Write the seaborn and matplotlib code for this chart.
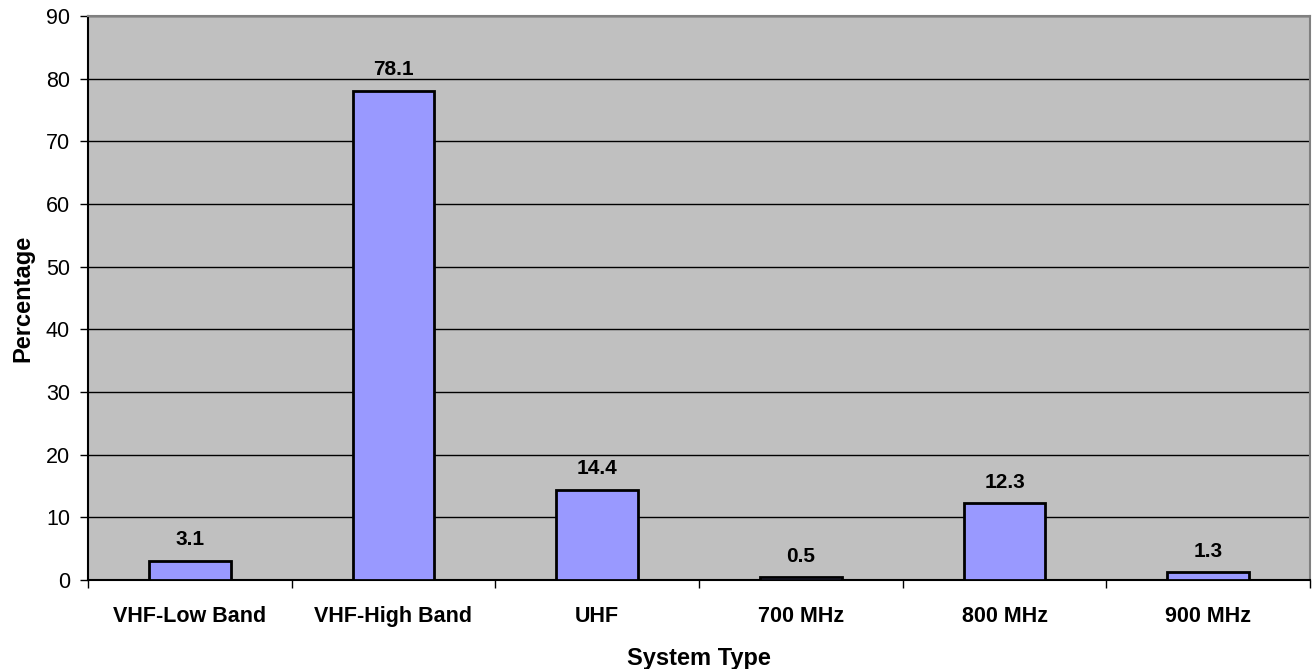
import numpy as np
import pandas as pd
import matplotlib
matplotlib.use("Agg")
import matplotlib.pyplot as plt
from matplotlib.ticker import FixedLocator
import seaborn as sns

categories = ["VHF-Low Band", "VHF-High Band", "UHF", "700 MHz", "800 MHz", "900 MHz"]
percentages = [3.1, 78.1, 14.4, 0.5, 12.3, 1.3]
y_ticks = [0, 10, 20, 30, 40, 50, 60, 70, 80, 90]

sns.set_style("white")
plt.rcParams["font.family"] = ["Liberation Sans", "DejaVu Sans"]
plt.rcParams["text.color"] = "black"
plt.rcParams["axes.labelcolor"] = "black"
plt.rcParams["xtick.color"] = "black"
plt.rcParams["ytick.color"] = "black"

df = pd.DataFrame({"System Type": categories, "Percentage": percentages})

fig = plt.figure(figsize=(13.12, 6.69), dpi=100)
ax = fig.add_axes([88 / 1312, 89 / 669, 1222 / 1312, 564 / 669])
ax.set_facecolor("#C0C0C0")

sns.barplot(data=df, x="System Type", y="Percentage", color="#9999FF",
            edgecolor="black", linewidth=2, width=0.4, saturation=1, ax=ax, zorder=3)

# value labels above each bar
for i, v in enumerate(percentages):
    ax.annotate(f"{v}", (i, v), xytext=(0, 11), textcoords="offset points",
                ha="center", va="baseline", fontsize=15, fontweight="bold",
                color="black", zorder=4)

ax.set_ylim(0, 90)
ax.set_xlim(-0.5, len(categories) - 0.5)
ax.set_yticks(y_ticks)
ax.yaxis.grid(True, color="black", linewidth=1)
ax.set_axisbelow(True)

ax.tick_params(axis="y", which="major", length=6, width=1, color="black",
               labelsize=15.5, direction="out", left=True, pad=7)
ax.tick_params(axis="x", which="major", length=0, labelsize=15.5, pad=19)
# tick marks sit between categories
ax.xaxis.set_minor_locator(FixedLocator(np.arange(-0.5, len(categories), 1.0)))
ax.tick_params(axis="x", which="minor", length=6, width=1, color="black",
               direction="out", bottom=True)
for lbl in ax.get_xticklabels():
    lbl.set_fontweight("bold")

for side in ["left", "bottom"]:
    ax.spines[side].set_color("black")
    ax.spines[side].set_linewidth(1.5)
for side in ["top", "right"]:
    ax.spines[side].set_color("#808080")
    ax.spines[side].set_linewidth(1.5)

ax.set_xlabel("System Type", fontsize=17, fontweight="bold", labelpad=14)
ax.set_ylabel("Percentage", fontsize=17, fontweight="bold", labelpad=8)

fig.savefig("out.png", dpi=100)
